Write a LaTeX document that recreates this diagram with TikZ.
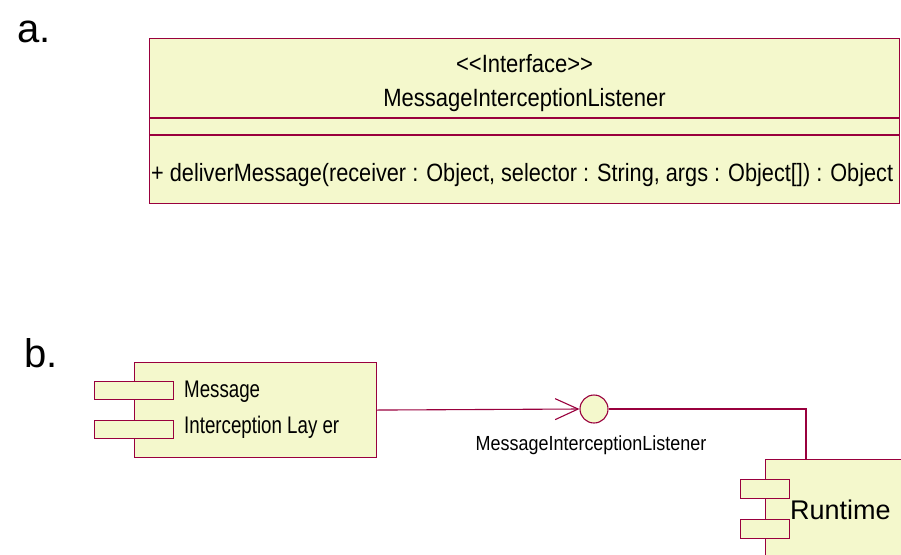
\documentclass[tikz,border=0pt]{standalone}
\usepackage{fontspec}
\setmainfont{Liberation Sans}
\newfontfamily\narrowfont[FakeStretch=0.88]{Liberation Sans}
\newfontfamily\opfont[FakeStretch=0.868]{Liberation Sans}
\newfontfamily\compfont[FakeStretch=0.78]{Liberation Sans}
\usetikzlibrary{arrows.meta, positioning, calc}
\definecolor{umlline}{RGB}{153,0,61}
\definecolor{umlfill}{RGB}{244,248,204}
\tikzset{
    base/.style = {draw=umlline, fill=umlfill, line width=1.1pt, inner sep=0pt},
    % Class and component parts
    classpart/.style = {base, rectangle, minimum width=750pt},
    compbox/.style   = {base, rectangle, anchor=north west},
    port/.style      = {base, rectangle, minimum width=79pt, minimum height=18pt, anchor=north west},
    iface/.style     = {base, circle, minimum size=28pt},
    % Texts
    txt/.style  = {font=\narrowfont\fontsize{25}{34}\selectfont, text=black, inner sep=0pt},
    tag/.style  = {font=\fontsize{40}{40}\selectfont, text=black, inner sep=0pt},
    % Edges
    link/.style  = {draw=umlline, line width=1.1pt},
    arrow/.style = {link, -{Straight Barb[length=23pt, width=21pt, line width=1.1pt]}}
}

\begin{document}
\begin{tikzpicture}[x=1pt, y=-1pt]
    \useasboundingbox (0,0) rectangle (901,554);
    \clip (0,0) rectangle (901,554);

    % a. interface class
    \node (taga) [tag] at (34,32) {a.};
    \node (ifname) [classpart, minimum height=79pt, anchor=north west] at (149,38) {};
    \node (ifattr) [classpart, minimum height=16pt, below=0pt of ifname] {};
    \node (ifops) [classpart, minimum height=68pt, below=0pt of ifattr] {};
    \node (stereo) [txt, anchor=base] at ($(ifname.north)+(0,34)$) {<<Interface>>};
    \node (ifnametxt) [txt, anchor=base] at ($(ifname.north)+(0,68)$) {MessageInterceptionListener};
    \node (optxt) [txt, font=\opfont\fontsize{25}{34}\selectfont, anchor=base west] at (151,181) {+ deliverMessage(receiver : Object, selector : String, args : Object[]) : Object};

    % b. components
    \node (tagb) [tag] at (41,353) {b.};
    \node (msgcomp) [compbox, minimum width=242pt, minimum height=95pt] at (134,362) {};
    \node (msgport1) [port] at (94,381) {};
    \node (msgport2) [port] at (94,420) {};
    \node (msgtxt1) [txt, font=\compfont\fontsize{24}{30}\selectfont, anchor=base west] at (184,397) {Message};
    \node (msgtxt2) [txt, font=\compfont\fontsize{24}{30}\selectfont, anchor=base west] at (184,433) {Interception Lay er};

    \node (listener) [iface] at (594,409) {};
    \node (listenertxt) [txt, font=\narrowfont\fontsize{20.4}{24}\selectfont] at (591,445) {MessageInterceptionListener};

    \node (runtime) [compbox, minimum width=180pt, minimum height=140pt] at (765,459) {};
    \node (rtport1) [port, minimum width=49pt, minimum height=19pt] at (740,479) {};
    \node (rtport2) [port, minimum width=49pt, minimum height=19pt] at (740,519) {};
    \node (rttxt) [txt, font=\fontsize{27}{30}\selectfont, anchor=base west] at (790,519) {Runtime};

    \draw [arrow] (msgcomp.east) -- (listener.west);
    \draw [link] (listener.east) -| ([xshift=41pt]runtime.north west);
\end{tikzpicture}
\end{document}
